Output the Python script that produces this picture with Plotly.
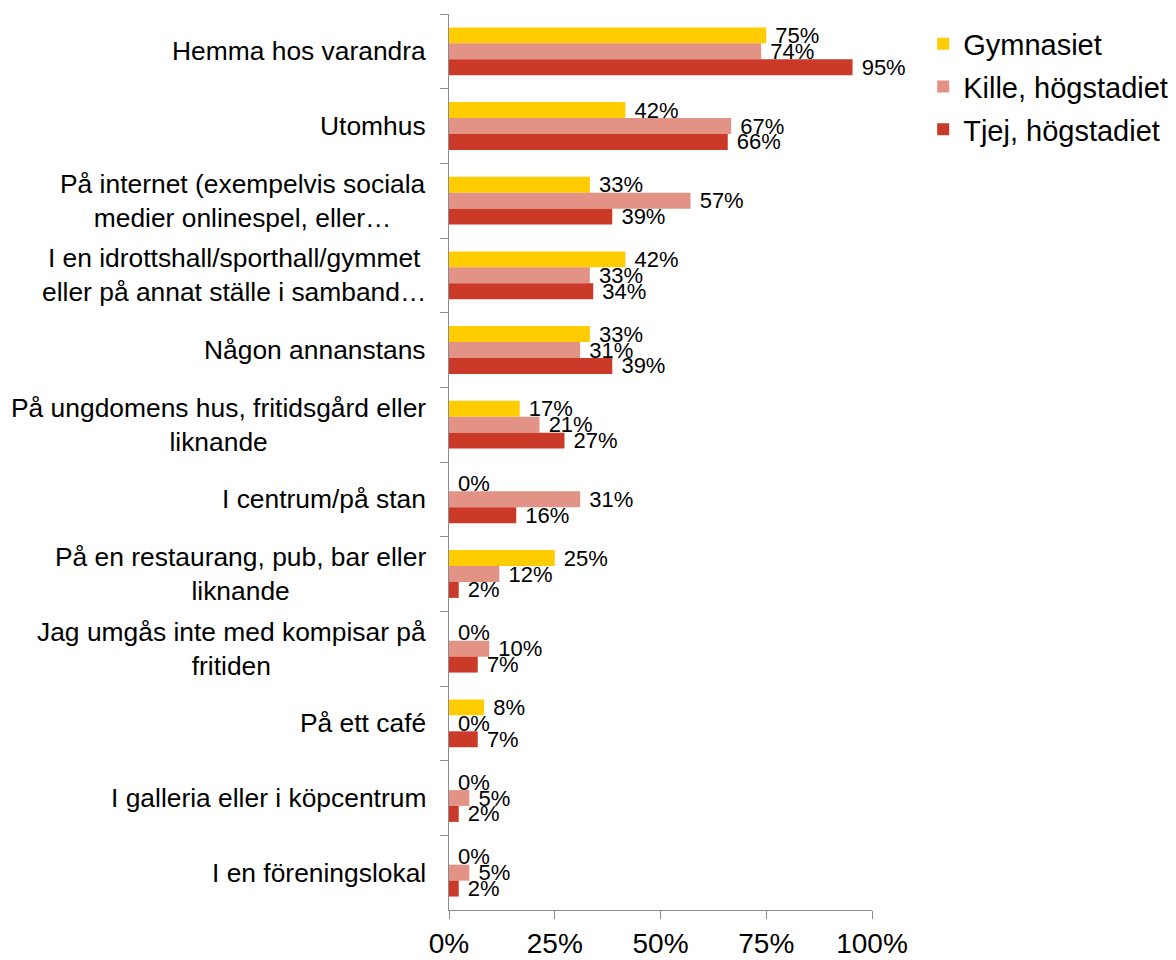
import plotly.graph_objects as go

# -------------------------------------------------------------------
# Data
# -------------------------------------------------------------------
categories = [
    "Hemma hos varandra",
    "Utomhus",
    "På internet (exempelvis sociala<br>medier onlinespel, eller…",
    "I en idrottshall/sporthall/gymmet<br>eller på annat ställe i samband…",
    "Någon annanstans",
    "På ungdomens hus, fritidsgård eller<br>liknande",
    "I centrum/på stan",
    "På en restaurang, pub, bar eller<br>liknande",
    "Jag umgås inte med kompisar på<br>fritiden",
    "På ett café",
    "I galleria eller i köpcentrum",
    "I en föreningslokal",
]

gymnasiet = [75.0, 41.7, 33.3, 41.7, 33.3, 16.7, 0.0, 25.0, 0.0, 8.3, 0.0, 0.0]
kille_hog = [73.8, 66.7, 57.1, 33.3, 31.0, 21.4, 31.0, 11.9, 9.5, 0.0, 4.8, 4.8]
tjej_hog = [95.4, 65.9, 38.6, 34.1, 38.6, 27.3, 15.9, 2.3, 6.8, 6.8, 2.3, 2.3]

series_names = ["Gymnasiet", "Kille, högstadiet", "Tjej, högstadiet"]
series_values = [gymnasiet, kille_hog, tjej_hog]
series_colors = ["#FFCC00", "#E39385", "#CB3A29"]

x_ticks = [0, 25, 50, 75, 100]

FONT = "Liberation Sans, Arial, sans-serif"
AXIS_GRAY = "#8C8C8C"

fig = go.Figure()

for name, values, color in zip(series_names, series_values, series_colors):
    fig.add_trace(
        go.Bar(
            y=categories,
            x=values,
            name=name,
            legendgroup=name,
            orientation="h",
            marker=dict(color=color, line=dict(width=0)),
            # leading no-break space gives the gap between bar end and label
            text=[f"\u00a0{v:.0f}%" for v in values],
            textposition="outside",
            textangle=0,
            constraintext="none",
            cliponaxis=False,
            textfont=dict(size=22, color="black", family=FONT),
        )
    )

# category labels as annotations so multi-line labels are centered
for cat in categories:
    fig.add_annotation(
        x=0,
        xref="paper",
        y=cat,
        yref="y",
        text=cat,
        showarrow=False,
        xanchor="right",
        yanchor="middle",
        align="center",
        xshift=-21,
        font=dict(size=26.4, color="black", family=FONT),
    )

# page body has an 8px margin, so the figure is drawn 8px smaller
fig.update_layout(
    width=1168,
    height=952,
    margin=dict(l=441, r=304, t=6, b=50, autoexpand=False),
    paper_bgcolor="white",
    plot_bgcolor="white",
    barmode="group",
    bargap=0.36,
    bargroupgap=0,
    font=dict(family=FONT, color="black"),
    showlegend=True,
    legend=dict(
        x=1.121,
        xanchor="left",
        y=0.995,
        yanchor="top",
        font=dict(size=29, color="black", family=FONT),
        itemwidth=30,
        tracegroupgap=2,
    ),
    xaxis=dict(
        range=[0, 100],
        tickvals=x_ticks,
        ticktext=[f"{t}%" for t in x_ticks],
        showgrid=False,
        zeroline=False,
        showline=True,
        linecolor=AXIS_GRAY,
        linewidth=1,
        ticks="outside",
        ticklen=8,
        tickcolor=AXIS_GRAY,
        tickfont=dict(size=28, color="black", family=FONT),
    ),
    yaxis=dict(
        autorange="reversed",
        showticklabels=False,
        showgrid=False,
        zeroline=False,
        showline=True,
        linecolor=AXIS_GRAY,
        linewidth=1,
        ticks="outside",
        ticklen=8,
        tickcolor=AXIS_GRAY,
        tickson="boundaries",
    ),
)

fig.write_html("out.html")
